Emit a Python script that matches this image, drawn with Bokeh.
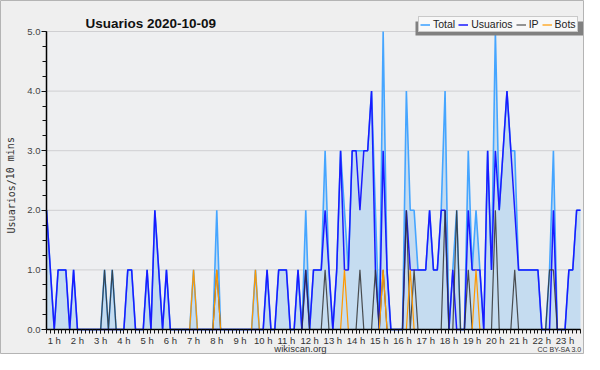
from bokeh.plotting import figure
from bokeh.models import (Range1d, FixedTicker, Legend, LegendItem, Label,
                          BoxAnnotation, PrintfTickFormatter, LinearAxis)
from bokeh.embed import file_html
from bokeh.resources import INLINE

# ---------------- data (10-minute bins) ----------------
total = [2, 1, 0, 1, 1, 1, 0, 1, 0, 0, 0, 0, 0, 0, 0, 1, 0, 1, 0, 0,
         0, 1, 1, 0, 0, 0, 1, 0, 2, 1, 0, 1, 0, 0, 0, 0, 0, 0, 1, 0,
         0, 0, 0, 0, 2, 0, 0, 0, 0, 0, 0, 0, 0, 0, 1, 0, 0, 1, 0, 0,
         1, 1, 1, 0, 0, 1, 0, 2, 0, 1, 1, 1, 3, 1, 0, 1, 3, 2, 1, 3,
         3, 3, 3, 3, 4, 2, 0, 5, 1, 0, 0, 0, 0, 4, 2, 2, 1, 1, 1, 2,
         1, 1, 2, 4, 0, 1, 2, 0, 0, 3, 1, 2, 1, 0, 3, 1, 5, 2, 3, 4,
         3, 3, 1, 1, 1, 1, 1, 1, 0, 0, 1, 3, 0, 0, 0, 1, 1, 2, 2]
usuarios = [2, 1, 0, 1, 1, 1, 0, 1, 0, 0, 0, 0, 0, 0, 0, 0, 0, 0, 0, 0,
            0, 1, 1, 0, 0, 0, 1, 0, 2, 1, 0, 1, 0, 0, 0, 0, 0, 0, 0, 0,
            0, 0, 0, 0, 0, 0, 0, 0, 0, 0, 0, 0, 0, 0, 0, 0, 0, 1, 0, 0,
            1, 1, 1, 0, 0, 1, 0, 1, 0, 1, 1, 1, 2, 1, 0, 1, 3, 1, 1, 3,
            3, 2, 3, 3, 4, 1, 0, 3, 1, 0, 0, 0, 0, 2, 1, 1, 1, 1, 1, 2,
            1, 1, 2, 2, 0, 1, 0, 0, 0, 2, 1, 1, 1, 0, 3, 1, 3, 2, 3, 4,
            3, 2, 1, 1, 1, 1, 1, 1, 0, 0, 0, 2, 0, 0, 0, 1, 1, 2, 2]
ip = [0, 0, 0, 0, 0, 0, 0, 0, 0, 0, 0, 0, 0, 0, 0, 1, 0, 1, 0, 0,
      0, 0, 0, 0, 0, 0, 0, 0, 0, 0, 0, 0, 0, 0, 0, 0, 0, 0, 0, 0,
      0, 0, 0, 0, 1, 0, 0, 0, 0, 0, 0, 0, 0, 0, 0, 0, 0, 0, 0, 0,
      0, 0, 0, 0, 0, 0, 0, 1, 0, 0, 0, 0, 1, 0, 0, 0, 0, 0, 0, 0,
      0, 1, 0, 0, 0, 1, 0, 1, 0, 0, 0, 0, 0, 2, 0, 1, 0, 0, 0, 0,
      0, 0, 0, 2, 0, 0, 2, 0, 0, 1, 0, 0, 0, 0, 0, 0, 2, 0, 0, 0,
      0, 1, 0, 0, 0, 0, 0, 0, 0, 0, 1, 1, 0, 0, 0, 0, 0, 0, 0]
bots = [0, 0, 0, 0, 0, 0, 0, 0, 0, 0, 0, 0, 0, 0, 0, 0, 0, 0, 0, 0,
        0, 0, 0, 0, 0, 0, 0, 0, 0, 0, 0, 0, 0, 0, 0, 0, 0, 0, 1, 0,
        0, 0, 0, 0, 1, 0, 0, 0, 0, 0, 0, 0, 0, 0, 1, 0, 0, 0, 0, 0,
        0, 0, 0, 0, 0, 0, 0, 0, 0, 0, 0, 0, 0, 0, 0, 0, 0, 1, 0, 0,
        0, 0, 0, 0, 0, 0, 0, 1, 0, 0, 0, 0, 0, 0, 1, 0, 0, 0, 0, 0,
        0, 0, 0, 0, 0, 0, 0, 0, 0, 0, 0, 1, 0, 0, 0, 0, 0, 0, 0, 0,
        0, 0, 0, 0, 0, 0, 0, 0, 0, 0, 0, 0, 0, 0, 0, 0, 0, 0, 0]
hour_labels = ["1 h", "2 h", "3 h", "4 h", "5 h", "6 h", "7 h", "8 h",
               "9 h", "10 h", "11 h", "12 h", "13 h", "14 h", "15 h",
               "16 h", "17 h", "18 h", "19 h", "20 h", "21 h", "22 h", "23 h"]
y_ticks = [0, 1, 2, 3, 4, 5]

n = len(total)
x = list(range(n))
last = x[-1]
ytop = y_ticks[-1]

FONT = "Liberation Sans"
W, H = 584, 354
# pixel layout of the plotting area inside the canvas
PX_L, PX_R = 46, 580      # x of first / last bin
PX_T, PX_B = 31, 329      # y of top (5.0) / bottom (0.0)
sx = (PX_R - PX_L) / last
sy = (PX_B - PX_T) / ytop
xmin = -PX_L / sx
xmax = last + (W - PX_R) / sx
ymin = -(H - PX_B) / sy
ymax = ytop + PX_T / sy


def dx(px):
    return xmin + px / sx


def dy(py):
    return ymax - py / sy


p = figure(width=W, height=H, x_range=Range1d(xmin, xmax),
           y_range=Range1d(ymin, ymax),
           output_backend="svg", toolbar_location=None,
           x_axis_location=None, y_axis_location=None, min_border=0,
           background_fill_color="#efefef", border_fill_color="#efefef")
p.outline_line_color = "#b4b4b4"
p.outline_line_width = 1
p.xgrid.visible = False
p.ygrid.visible = False

# plotting area background
p.add_layout(BoxAnnotation(left=0, right=last, bottom=0, top=ytop,
                           fill_color="#eeeff1", fill_alpha=1.0,
                           line_color=None, level="underlay"))
# horizontal grid lines
grid_y = y_ticks[1:]
p.segment(x0=[0] * len(grid_y), x1=[last] * len(grid_y), y0=grid_y, y1=grid_y,
          line_color="#cfcfd2", line_width=1)

# area + lines
p.varea(x=x, y1=[0] * n, y2=total, fill_color="#c5dcf0", fill_alpha=1.0)
rT = p.line(x, total, line_color="#45a5ff", line_width=1.6)
rU = p.line(x, usuarios, line_color="#1a1aff", line_width=1.5)
rI = p.line(x, ip, line_color="#333333", line_width=1.2, line_alpha=0.85)
rB = p.line(x, bots, line_color="#ff9900", line_width=1.2)

# x axis
major_x = [6 * i + 2 for i in range(len(hour_labels))]
xaxis = LinearAxis(fixed_location=0, bounds=(0, last))
xaxis.ticker = FixedTicker(ticks=major_x, minor_ticks=x)
xaxis.major_label_overrides = {t: lab for t, lab in zip(major_x, hour_labels)}
xaxis.major_tick_in = 0
xaxis.major_tick_out = 4
xaxis.minor_tick_in = 0
xaxis.minor_tick_out = 4
xaxis.major_tick_line_color = "#111111"
xaxis.minor_tick_line_color = "#111111"
xaxis.axis_line_color = "#000000"
xaxis.axis_line_width = 1.5
xaxis.major_label_standoff = 1
xaxis.major_label_text_font = FONT
xaxis.major_label_text_font_size = "9.5px"
xaxis.major_label_text_color = "#333333"
p.add_layout(xaxis, "below")

# y axis
yaxis = LinearAxis(fixed_location=0, bounds=(0, ytop))
yaxis.ticker = FixedTicker(ticks=y_ticks,
                           minor_ticks=[v / 4 for v in range(0, 21)])
yaxis.formatter = PrintfTickFormatter(format="%.1f")
yaxis.major_tick_in = 0
yaxis.major_tick_out = 5
yaxis.minor_tick_in = 0
yaxis.minor_tick_out = 4
yaxis.major_tick_line_color = "#111111"
yaxis.minor_tick_line_color = "#111111"
yaxis.axis_line_color = "#000000"
yaxis.axis_line_width = 1.5
yaxis.major_label_standoff = 1
yaxis.major_label_text_font = FONT
yaxis.major_label_text_font_size = "9.5px"
yaxis.major_label_text_color = "#444444"
p.add_layout(yaxis, "left")

# legend + shadow
LEG_L, LEG_T, LEG_B = 418, 17, 32
p.add_layout(BoxAnnotation(left=dx(LEG_L - 3), right=dx(582.5), top=dy(LEG_T + 4),
                           bottom=dy(LEG_B + 3), fill_color="#808080",
                           fill_alpha=1.0, line_color=None, level="overlay"))
legend = Legend(items=[LegendItem(label="Total", renderers=[rT]),
                       LegendItem(label="Usuarios", renderers=[rU]),
                       LegendItem(label="IP", renderers=[rI]),
                       LegendItem(label="Bots", renderers=[rB])],
                orientation="horizontal", location=(LEG_L, H - LEG_B),
                label_text_font=FONT, label_text_font_size="10.5px",
                label_text_color="#222222",
                glyph_width=10, glyph_height=9, label_standoff=3,
                spacing=3, padding=1, margin=0, label_width=8,
                border_line_color="#999999", border_line_width=1,
                background_fill_color="#f8f8f8", background_fill_alpha=1.0,
                label_height=11)
p.add_layout(legend)

# texts
p.add_layout(Label(x=dx(85), y=dy(22.5), text="Usuarios  2020-10-09",
                   text_font=FONT, text_font_style="bold",
                   text_font_size="13.5px", text_color="#111111",
                   text_baseline="alphabetic"))
p.add_layout(Label(x=dx(10.5), y=2.42, text="Usuarios/10 mins", angle=1.5708,
                   text_font="DejaVu Sans Mono", text_font_size="10px",
                   text_color="#333333", text_align="center",
                   text_baseline="middle"))
p.add_layout(Label(x=dx(300), y=dy(353), text="wikiscan.org",
                   text_font=FONT, text_font_size="9.5px",
                   text_color="#333333", text_align="center",
                   text_baseline="bottom"))
p.add_layout(Label(x=dx(581), y=dy(352), text="CC BY-SA 3.0",
                   text_font=FONT, text_font_size="7px",
                   text_color="#333333", text_align="right",
                   text_baseline="bottom"))

open("out.html", "w").write(file_html(p, INLINE))
